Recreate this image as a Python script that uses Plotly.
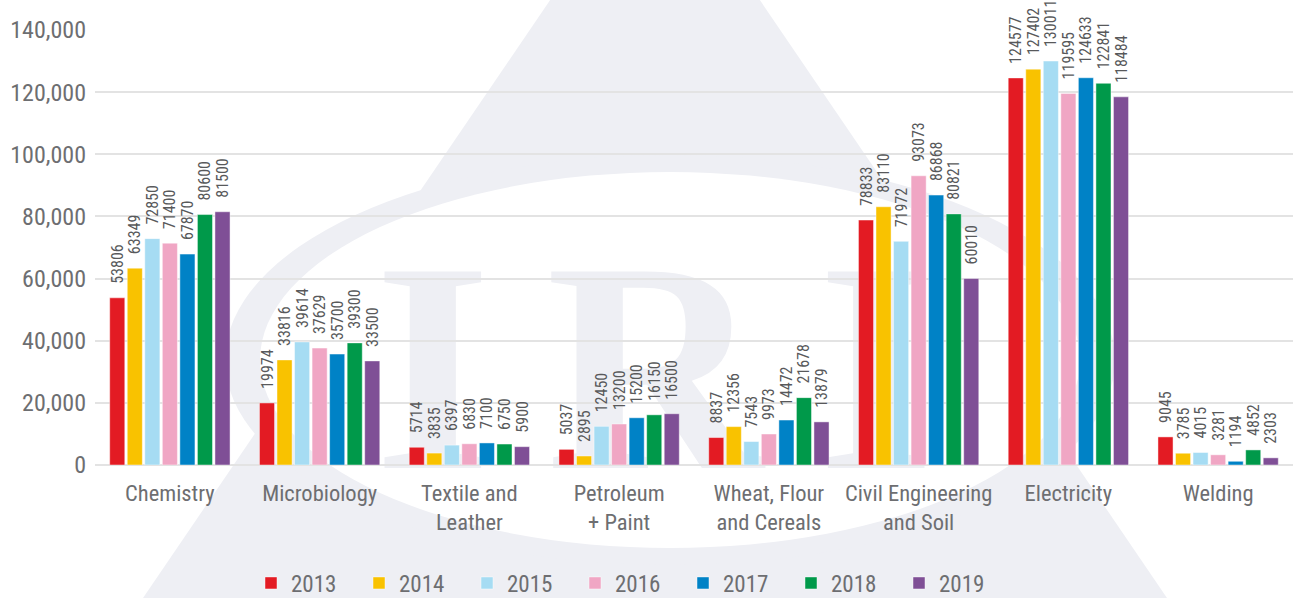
import base64
import plotly.graph_objects as go

categories = ["Chemistry", "Microbiology", "Textile and<br>Leather", "Petroleum<br>+ Paint",
              "Wheat, Flour<br>and Cereals", "Civil Engineering<br>and Soil", "Electricity", "Welding"]
years = ["2013", "2014", "2015", "2016", "2017", "2018", "2019"]
v2013 = [53806, 19974, 5714, 5037, 8837, 78833, 124577, 9045]
v2014 = [63349, 33816, 3835, 2895, 12356, 83110, 127402, 3785]
v2015 = [72850, 39614, 6397, 12450, 7543, 71972, 130011, 4015]
v2016 = [71400, 37629, 6830, 13200, 9973, 93073, 119595, 3281]
v2017 = [67870, 35700, 7100, 15200, 14472, 86868, 124633, 1194]
v2018 = [80600, 39300, 6750, 16150, 21678, 80821, 122841, 4852]
v2019 = [81500, 33500, 5900, 16500, 13879, 60010, 118484, 2303]
series = [v2013, v2014, v2015, v2016, v2017, v2018, v2019]
colors = ["#e31b23", "#f9c200", "#a6dcf3", "#f0a6c4", "#0082c6", "#00994a", "#7f4f96"]

FONT = "Liberation Sans Narrow, Roboto Condensed, Arial Narrow, Roboto, sans-serif"
W, H = 1293, 598
L, R, T, B = 95, 0, 30, 133
PW, PH = W - L - R, H - T - B

# background watermark (logo-like), drawn beneath the plot
wm = "#eeeff4"
svg = f'''<svg xmlns="http://www.w3.org/2000/svg" width="{W}" height="{H}" viewBox="0 0 {W} {H}">
<polygon points="655,-154 143,598 1167,598" fill="{wm}"/>
<ellipse cx="670" cy="360" rx="445" ry="205" fill="{wm}"/>
<ellipse cx="670" cy="360" rx="410" ry="188" fill="#ffffff"/>
<text x="682" y="468" text-anchor="middle" font-family="Liberation Serif, DejaVu Serif, serif" font-weight="bold" font-size="300" letter-spacing="55" fill="{wm}">IRI</text>
</svg>'''
src = "data:image/svg+xml;base64," + base64.b64encode(svg.encode()).decode()

fig = go.Figure()
for y, vals, c in zip(years, series, colors):
    fig.add_trace(go.Bar(
        name=y, x=categories, y=vals,
        marker=dict(color=c, line=dict(color="rgba(255,255,255,0.45)", width=1)),
        text=["\u00a0\u00a0\u00a0" + str(v) for v in vals], textposition="outside", textangle=-90,
        textfont=dict(family=FONT, size=16, color="#58595b"),
        cliponaxis=False,
    ))

fig.add_layout_image(dict(
    source=src, xref="paper", yref="paper",
    x=-L / PW, y=(PH + T) / PH, sizex=W / PW, sizey=H / PH,
    xanchor="left", yanchor="top", sizing="stretch", layer="below",
))

fig.update_layout(
    width=W, height=H,
    margin=dict(l=L, r=R, t=T, b=B, autoexpand=False),
    paper_bgcolor="white", plot_bgcolor="rgba(0,0,0,0)",
    barmode="group", bargap=0.18, bargroupgap=0.14,
    uniformtext=dict(minsize=16, mode="show"),
    font=dict(family=FONT, color="#6d6e71", size=23),
    xaxis=dict(tickfont=dict(family=FONT, size=22.5, color="#6d6e71"), showgrid=False, ticks="",
               automargin=False, ticklabelstandoff=12),
    yaxis=dict(range=[0, 140000], dtick=20000, tickformat=",", gridcolor="#e3e3e3", gridwidth=2,
               zeroline=True, zerolinecolor="#e3e3e3", zerolinewidth=2, automargin=False,
               tickfont=dict(family=FONT, size=24, color="#6d6e71"), ticklabelstandoff=8),
    legend=dict(orientation="h", x=(629 - L) / PW, xanchor="center", y=(465 - 583) / PH, yanchor="middle",
                font=dict(family=FONT, size=23, color="#6d6e71"), itemwidth=30,
                entrywidth=63, entrywidthmode="pixels",
                traceorder="normal", bgcolor="rgba(0,0,0,0)"),
)
fig.write_html("out.html", config={"displayModeBar": False},
               post_script="document.body.style.margin='0';document.body.style.overflow='hidden';")
